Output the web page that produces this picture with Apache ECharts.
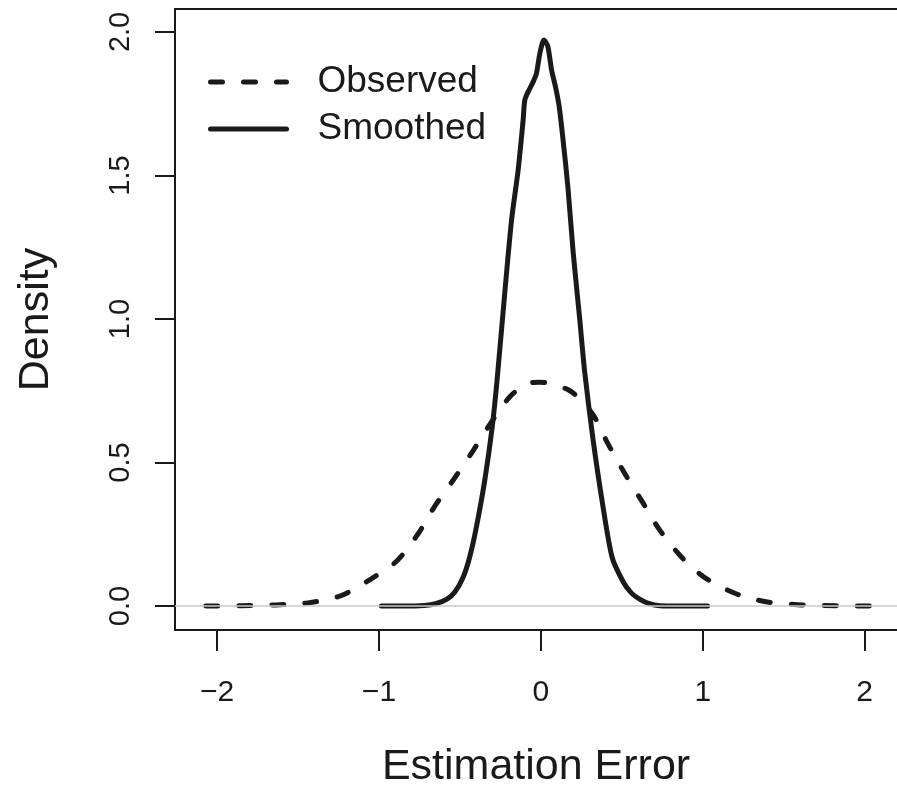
<!DOCTYPE html>
<html>
<head>
<meta charset="utf-8">
<script src="https://cdn.jsdelivr.net/npm/echarts@6/dist/echarts.min.js"></script>
<style>
html,body{margin:0;padding:0;background:#fff;}
#chart{width:897px;height:794px;}
</style>
</head>
<body>
<div id="chart"></div>
<script>
// Data
const observedX = [-2.07,-1.85,-1.64,-1.44,-1.24,-1.05,-0.89,-0.76,-0.655,-0.54,-0.42,-0.315,-0.19,-0.08,-0.01,0.08,0.18,0.26,0.33,0.41,0.52,0.63,0.74,0.87,1.01,1.21,1.40,1.61,1.85,2.07];
const observedY = [0,0.001,0.004,0.011,0.035,0.094,0.157,0.25,0.348,0.44,0.54,0.633,0.73,0.775,0.78,0.772,0.75,0.71,0.66,0.57,0.46,0.36,0.26,0.17,0.10,0.042,0.014,0.004,0.001,0];
const smoothedX = [-0.985,-0.85,-0.72,-0.65,-0.58,-0.53,-0.48,-0.44,-0.40,-0.346,-0.30,-0.27,-0.22,-0.18,-0.14,-0.11,-0.099,-0.078,-0.047,-0.027,-0.006,0.019,0.043,0.066,0.088,0.112,0.136,0.167,0.20,0.24,0.27,0.32,0.38,0.44,0.51,0.56,0.61,0.67,0.735,0.85,1.03];
const smoothedY = [0,0,0.002,0.008,0.024,0.05,0.10,0.17,0.27,0.44,0.626,0.79,1.11,1.35,1.52,1.69,1.763,1.792,1.827,1.856,1.926,1.972,1.95,1.868,1.815,1.745,1.63,1.46,1.23,1.0,0.82,0.59,0.36,0.17,0.083,0.045,0.024,0.008,0.001,0,0];
const xTicks = [-2,-1,0,1,2];
const yTicks = [0,0.5,1,1.5,2];
const seriesNames = ['Observed','Smoothed'];
const xTitle = 'Estimation Error';
const yTitle = 'Density';

const zip = (xs, ys) => xs.map((x, i) => [x, ys[i]]);
const FONT = '"Liberation Sans", Arial, Helvetica, sans-serif';
const INK = '#1a1a1a';

const chart = echarts.init(document.getElementById('chart'), null, {renderer: 'canvas'});
chart.setOption({
  animation: false,
  backgroundColor: '#ffffff',
  grid: {left: 175, right: 0, top: 9, bottom: 163, containLabel: false},
  legend: {
    orient: 'vertical',
    left: 203,
    top: 57,
    itemWidth: 76,
    itemHeight: 14,
    itemGap: 7,
    data: seriesNames,
    itemStyle: {opacity: 0},
    lineStyle: {width: 5},
    textStyle: {fontFamily: FONT, fontSize: 37, color: INK, lineHeight: 40, padding: [0,0,0,26]}
  },
  xAxis: [{
    type: 'value',
    min: -2.26, max: 2.2,
    name: xTitle,
    nameLocation: 'middle',
    nameGap: 116,
    nameTextStyle: {fontFamily: FONT, fontSize: 43, color: INK},
    axisLine: {show: true, onZero: false, lineStyle: {color: INK, width: 2}},
    axisTick: {show: true, length: 21, inside: false, customValues: xTicks, lineStyle: {color: INK, width: 2}},
    axisLabel: {show: true, margin: 48, fontFamily: FONT, fontSize: 30, color: INK, customValues: xTicks,
      formatter: v => String(v).replace('-', '\u2212')},
    splitLine: {show: false}
  }, {
    type: 'value',
    position: 'top',
    min: -2.26, max: 2.2,
    axisLine: {show: true, onZero: false, lineStyle: {color: INK, width: 2}},
    axisTick: {show: false},
    axisLabel: {show: false},
    splitLine: {show: false}
  }],
  yAxis: {
    type: 'value',
    min: -0.0835, max: 2.08,
    name: yTitle,
    nameLocation: 'middle',
    nameGap: 117,
    nameRotate: 90,
    nameTextStyle: {fontFamily: FONT, fontSize: 43, color: INK},
    axisLine: {show: true, onZero: false, lineStyle: {color: INK, width: 2}},
    axisTick: {show: true, length: 20, inside: false, customValues: yTicks, lineStyle: {color: INK, width: 2}},
    axisLabel: {show: true, rotate: 90, margin: 40, fontFamily: FONT, fontSize: 29, color: INK, customValues: yTicks,
      formatter: v => v.toFixed(1)},
    splitLine: {show: false}
  },
  series: [{
    name: seriesNames[0],
    type: 'line',
    data: zip(observedX, observedY),
    smooth: 0.3,
    symbol: 'none',
    showSymbol: false,
    lineStyle: {color: INK, width: 5, type: [12, 21], cap: 'round', join: 'round'},
    itemStyle: {color: INK},
    markLine: {
      silent: true,
      symbol: 'none',
      label: {show: false},
      lineStyle: {color: '#c8c8c8', width: 1.5, type: 'solid'},
      data: [{yAxis: 0}]
    },
    z: 3
  }, {
    name: seriesNames[1],
    type: 'line',
    data: zip(smoothedX, smoothedY),
    smooth: 0.25,
    symbol: 'none',
    showSymbol: false,
    lineStyle: {color: INK, width: 5, type: 'solid', cap: 'round', join: 'round'},
    itemStyle: {color: INK},
    z: 4
  }]
});
</script>
</body>
</html>
